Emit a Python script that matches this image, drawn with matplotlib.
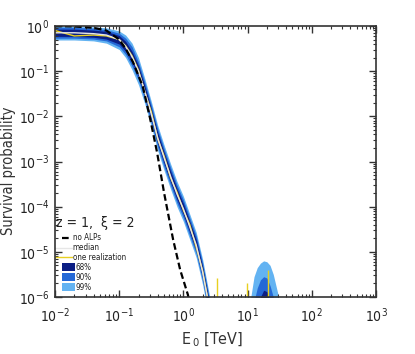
import numpy as np
import matplotlib
matplotlib.use("Agg")
import matplotlib.pyplot as plt
from matplotlib import font_manager as fm

# ---- data (log10 values) ----
logE = [-2, -1.7, -1.4, -1.2, -1.0, -0.9, -0.8, -0.7, -0.6, -0.5, -0.4, -0.3,
        -0.2, -0.1, 0.0, 0.1, 0.2, 0.3, 0.4, 0.5]
median = [-0.15, -0.15, -0.17, -0.2, -0.3, -0.45, -0.68, -1.0, -1.45, -1.95,
          -2.48, -2.92, -3.33, -3.72, -4.05, -4.45, -4.85, -5.45, -6.2, -7.0]
hi99 = [-0.01, -0.01, -0.02, -0.04, -0.11, -0.2, -0.38, -0.7, -1.17, -1.67,
        -2.2, -2.64, -3.05, -3.44, -3.77, -4.17, -4.57, -5.17, -5.92, -6.72]
lo99 = [-0.31, -0.31, -0.33, -0.38, -0.52, -0.7, -0.97, -1.3, -1.73, -2.23,
        -2.76, -3.2, -3.61, -4.0, -4.33, -4.73, -5.13, -5.73, -6.48, -7.28]
hi90 = [-0.03, -0.03, -0.05, -0.08, -0.16, -0.27, -0.46, -0.8, -1.25, -1.75,
        -2.28, -2.72, -3.13, -3.52, -3.85, -4.25, -4.65, -5.25, -6.0, -6.8]
lo90 = [-0.27, -0.27, -0.29, -0.33, -0.46, -0.63, -0.89, -1.2, -1.65, -2.15,
        -2.68, -3.12, -3.53, -3.92, -4.25, -4.65, -5.05, -5.65, -6.4, -7.2]
hi68 = [-0.07, -0.07, -0.09, -0.12, -0.21, -0.34, -0.56, -0.88, -1.33, -1.83,
        -2.36, -2.8, -3.21, -3.6, -3.93, -4.33, -4.73, -5.33, -6.08, -6.88]
lo68 = [-0.23, -0.23, -0.25, -0.29, -0.4, -0.56, -0.8, -1.12, -1.57, -2.07,
        -2.6, -3.04, -3.45, -3.84, -4.17, -4.57, -4.97, -5.57, -6.32, -7.12]
realization = [-0.1, -0.22, -0.2, -0.22, -0.3, -0.44, -0.66, -0.98, -1.47, -1.9,
               -2.5, -2.88, -3.36, -3.68, -4.08, -4.4, -4.9, -5.42, -6.2, -7.0]

bump_logE = [1.0, 1.05, 1.1, 1.15, 1.2, 1.25, 1.3, 1.35, 1.4, 1.45, 1.5, 1.55]
bump99 = [-6.5, -6.0, -5.55, -5.35, -5.25, -5.2, -5.22, -5.3, -5.5, -5.8, -6.1, -6.5]
bump90 = [-7.0, -6.6, -6.1, -5.8, -5.62, -5.55, -5.58, -5.75, -6.0, -6.4, -7.0, -7.0]
bump68 = [-7.0, -7.0, -6.6, -6.3, -6.0, -5.85, -5.88, -6.1, -6.5, -7.0, -7.0, -7.0]

spike_logE = [0.52, 0.99, 1.32]
spike_top = [-5.58, -5.7, -5.4]

noalp_logE = [-2, -1.7, -1.4, -1.2, -1.0, -0.9, -0.785, -0.7, -0.63, -0.52,
              -0.41, -0.3, -0.16, -0.05, 0.07, 0.12]
noalp = [-0.003, -0.01, -0.04, -0.1, -0.3, -0.5, -0.8, -1.1, -1.35, -2.04,
         -2.8, -3.7, -4.73, -5.4, -5.95, -6.3]

x_exponents = [-2, -1, 0, 1, 2, 3]
y_exponents = [-6, -5, -4, -3, -2, -1, 0]
legend_labels = ["no ALPs", "median", "one realization", "68%", "90%", "99%"]

c68, c90, c99 = "#0b1e84", "#2468d6", "#63b3f2"
cyel, cmed = "#e8d020", "#e6e6e6"

def p(a):
    return np.power(10.0, np.asarray(a, dtype=float))

plt.rcParams['font.family'] = ['Roboto', 'DejaVu Sans']

# look for a condensed sans face; fall back to Roboto with smaller sizes
narrow_file = None
for f in fm.fontManager.ttflist:
    nm = f.name.lower()
    st = str(f.stretch).lower()
    if f.style != 'normal' or f.weight not in (400, 'normal', 'regular'):
        continue
    if ('narrow' in nm or 'condensed' in nm or st in ('condensed', 'semi-condensed')) \
            and 'mono' not in nm and 'serif' not in nm:
        narrow_file = f.fname
        break
def nfont(size):
    if narrow_file:
        return fm.FontProperties(fname=narrow_file, size=size)
    return fm.FontProperties(family='Roboto', size=size * 0.9)

W, H = 415, 354
fig = plt.figure(figsize=(W / 100, H / 100), dpi=100)
L, R, T, B = 55, 376, 26, 297
ax = fig.add_axes([L / W, 1 - B / H, (R - L) / W, (B - T) / H])

E = p(logE)
ax.fill_between(E, p(lo99), p(hi99), color=c99, lw=0)
ax.fill_between(E, p(lo90), p(hi90), color=c90, lw=0)
ax.fill_between(E, p(lo68), p(hi68), color=c68, lw=0)
Eb = p(bump_logE)
ax.fill_between(Eb, 1e-7, p(bump99), color=c99, lw=0)
ax.fill_between(Eb, 1e-7, p(bump90), color=c90, lw=0)
ax.fill_between(Eb, 1e-7, p(bump68), color=c68, lw=0)

ax.plot(E, p(realization), color=cyel, lw=1.0)
ax.plot(E, p(median), color=cmed, lw=1.0)
ax.vlines(p(spike_logE), 1e-7, p(spike_top), color=cyel, lw=1.0)
ax.plot(p(noalp_logE), p(noalp), color="black", lw=1.6, ls=(0, (3, 1.5)))

ax.set_xscale("log")
ax.set_yscale("log")
ax.set_xlim(1e-2, 1e3)
ax.set_ylim(1e-6, 1.0)
tick_fp = nfont(10)
ax.set_xticks(p(x_exponents),
              labels=[r"$\mathdefault{10^{%d}}$" % e for e in x_exponents],
              fontproperties=tick_fp)
ax.set_yticks(p(y_exponents),
              labels=[r"$\mathdefault{10^{%d}}$" % e for e in y_exponents],
              fontproperties=tick_fp)
ax.tick_params(which="both", direction="in", top=True, right=True,
               colors="#333333", labelcolor="#222222")
ax.tick_params(which="major", length=5, width=1.0)
ax.tick_params(which="minor", length=2.5, width=0.8)
ax.tick_params(axis="x", pad=7)
ax.tick_params(axis="y", pad=4)
for s in ax.spines.values():
    s.set_color("#333333")
    s.set_linewidth(1.2)

fig.text(9 / W, 1 - 171 / H, "Survival probability", rotation=90,
         ha="center", va="center", color="#333333", fontproperties=nfont(10.5))
fig.text(212 / W, 1 - 344 / H, r"$\mathdefault{E_{\,0}}$ [TeV]",
         ha="center", va="baseline", color="#333333", fontproperties=nfont(11.5))

# ---- hand-made legend (pixel positions converted to axes fractions) ----
def ax_xy(px, py):
    return (px - L) / (R - L), (B - py) / (B - T)

tr = ax.transAxes
x0, y0 = ax_xy(56, 223)
ax.text(x0, y0, "z = 1,  \u03be = 2", transform=tr,
        ha="left", va="center", color="#222222", fontproperties=nfont(10))
ys = [238, 248, 257, 267, 277, 287]
styles = [dict(color="black", lw=1.6, ls=(0, (3, 1.5)), start=62),
          dict(color=cmed, lw=1.0, ls="-", start=55),
          dict(color=cyel, lw=1.0, ls="-", start=53)]
for i, lab in enumerate(legend_labels):
    if i < 3:
        st = styles[i]
        xa, ya = ax_xy(st["start"], ys[i])
        xb, _ = ax_xy(72, ys[i])
        ax.plot([xa, xb], [ya, ya], transform=tr, color=st["color"],
                lw=st["lw"], ls=st["ls"])
        xt, _ = ax_xy(72.5, ys[i])
    else:
        col = [c68, c90, c99][i - 3]
        xa, ya = ax_xy(62, ys[i] + 4)
        ax.add_patch(plt.Rectangle((xa, ya), 13 / (R - L), 8 / (B - T),
                                   transform=tr, color=col, lw=0))
        xt, _ = ax_xy(75.5, ys[i])
    _, yt = ax_xy(0, ys[i])
    ax.text(xt, yt, lab, transform=tr, ha="left", va="center",
            color="#222222", fontproperties=nfont(5.8))

fig.savefig("out.png", dpi=100)
